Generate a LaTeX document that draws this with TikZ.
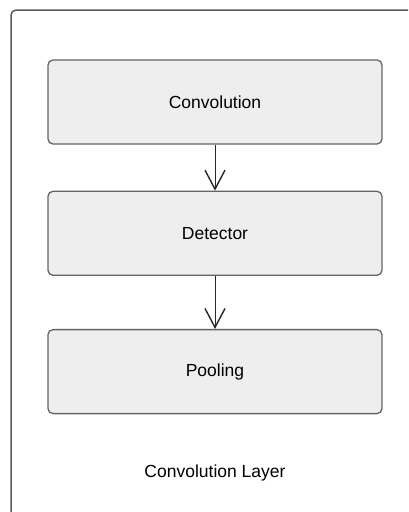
\documentclass[tikz,border=0pt]{standalone}
\usepackage{fontspec}
\setmainfont{Liberation Sans}
\usetikzlibrary{arrows.meta, positioning}
\definecolor{boxfill}{RGB}{238, 238, 238}
\definecolor{boxline}{RGB}{100, 100, 100}
\definecolor{frameline}{RGB}{90, 90, 90}
\definecolor{charcoal}{RGB}{40, 40, 40}

\begin{document}
\begin{tikzpicture}[x=1pt, y=-1pt,
            layerbox/.style={draw=boxline, line width=1.3pt, fill=boxfill, rounded corners=5pt, minimum width=334pt, minimum height=84pt, inner sep=0pt, font=\fontsize{17.5}{20}\selectfont},
            arrow/.style={-{Straight Barb[length=19pt, width=20pt, line width=1.4pt]}, line width=1pt, charcoal}
        ]
            \useasboundingbox (0,0) rectangle (408,512);
            \clip (0,0) rectangle (408,512);
            \fill[white] (0,0) rectangle (408,512);
            \draw[frameline, line width=1.5pt, rounded corners=5pt] (11,10) rectangle (430,540);

            \node[layerbox] (conv) at (215,102) {Convolution};
            \node[layerbox, below=46pt of conv] (det) {Detector};
            \node[layerbox, below=53pt of det] (pool) {Pooling};
            \node[font=\fontsize{17.5}{20}\selectfont] (layer) at (215,473) {Convolution Layer};

            \draw[arrow] (conv) -- (det);
            \draw[arrow] (det) -- (pool);
        \end{tikzpicture}
\end{document}
